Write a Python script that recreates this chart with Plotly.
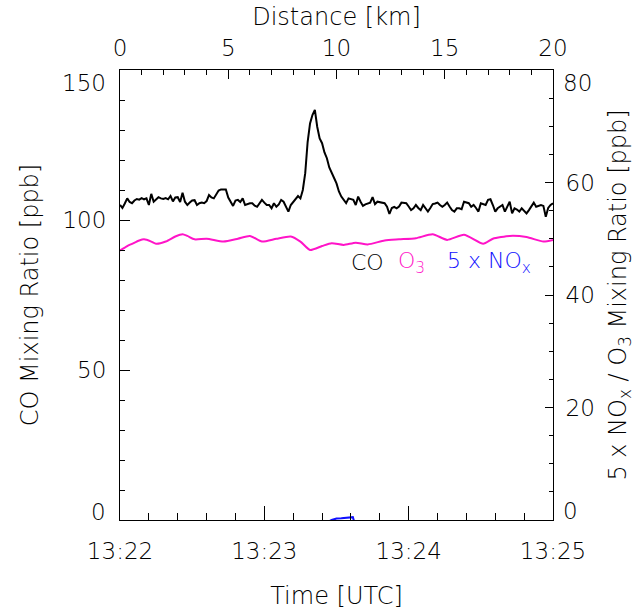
import plotly.graph_objects as go

# ---------------- data ----------------
# CO mixing ratio [ppb], 1-s samples starting 13:22:00
co_ppb = [
    105.0, 104.0, 105.5, 107.2, 106.0, 105.6, 106.5, 107.0, 106.8, 107.3,
    106.9, 107.2, 105.0, 108.7, 106.1, 107.0, 107.6, 107.2, 107.0, 107.3,
    106.9, 108.0, 106.2, 107.5, 107.6, 106.0, 109.1, 106.1, 105.0, 105.8,
    106.5, 106.6, 105.0, 105.6, 105.8, 105.6, 106.3, 108.3, 107.5, 107.2,
    108.5, 109.8, 110.2, 110.3, 110.2, 107.5, 106.2, 104.7, 106.5, 106.7,
    106.0, 107.2, 105.0, 105.3, 105.6, 105.6, 104.8, 104.4, 105.5, 106.7,
    105.8, 105.0, 105.0, 103.9, 105.6, 104.4, 105.2, 106.7, 106.1, 104.5,
    102.8, 105.0, 106.0, 106.7, 108.0, 107.2, 110.0, 115.6, 126.0, 132.2,
    135.0, 136.7, 131.0, 127.2, 125.6, 122.5, 120.6, 117.5, 115.5, 114.0,
    112.2, 109.5, 107.8, 106.5, 105.6, 107.2, 107.0, 106.7, 105.0, 107.8,
    106.1, 104.7, 105.2, 105.6, 105.8, 107.6, 105.3, 106.1, 105.9, 105.8,
    105.6, 104.4, 102.0, 104.0, 104.4, 103.9, 104.5, 105.8, 105.7, 105.6,
    104.5, 103.3, 103.9, 105.0, 104.0, 103.3, 105.0, 104.0, 102.8, 104.0,
    105.3, 105.5, 105.8, 105.0, 104.4, 105.0, 105.8, 104.5, 103.3, 102.8,
    103.9, 103.9, 103.6, 106.1, 105.8, 105.6, 104.4, 105.0, 104.0, 102.8,
    105.6, 105.2, 105.0, 106.7, 106.9, 105.0, 102.8, 103.9, 104.5, 105.0,
    102.8, 104.5, 106.1, 102.2, 103.9, 103.5, 102.8, 103.9, 103.0, 102.2,
    103.3, 104.5, 105.8, 104.4, 104.6, 105.0, 104.7, 101.1, 104.0, 105.0,
    105.6,
]
co_time_s = list(range(len(co_ppb)))  # seconds after 13:22:00

# O3 mixing ratio [ppb]
o3_time_s = [0, 3, 5, 8, 10, 13, 15, 19, 23, 26, 28, 31, 36, 43, 49, 54, 59,
             65, 71, 75, 79, 84, 88, 93, 98, 103, 110, 116, 123, 130, 136,
             143, 151, 155, 162, 169, 176, 180]
o3_ppb = [47.9, 48.7, 49.1, 49.7, 49.9, 49.5, 49.1, 49.5, 50.4, 50.8, 50.5,
          49.9, 50.0, 49.5, 50.0, 50.5, 49.5, 50.0, 50.4, 49.5, 48.0, 48.7,
          49.2, 48.9, 49.3, 49.0, 49.7, 49.9, 50.1, 50.8, 49.8, 50.7, 49.1,
          50.0, 50.5, 50.3, 49.5, 49.8]

# NOx mixing ratio [ppb] (plotted as 5 x NOx)
nox_time_s = [0, 20, 40, 60, 80, 86, 88, 90, 92, 94, 96, 96.8, 97.3, 99,
              120, 140, 160, 180]
nox_ppb = [-0.30, -0.24, -0.28, -0.26, -0.20, -0.08, 0.00, 0.05, 0.06, 0.07,
           0.08, 0.10, -0.04, -0.20, -0.26, -0.28, -0.24, -0.30]
nox_factor = 5

time_tick_s = [0, 60, 120, 180]
time_tick_labels = ["13:22", "13:23", "13:24", "13:25"]
distance_range_km = [0, 20]
co_ticks = [0, 50, 100, 150]
right_ticks = [0, 20, 40, 60, 80]

# ---------------- figure ----------------
FONT = "DejaVu Sans"
FS = 23       # tick labels
FT = 24       # titles
FW = 200
TXT = "#000000"
MAGENTA = "#ff14c8"
BLUE = "#1010ff"

def f(size=FS, color=TXT):
    return dict(family=FONT, size=size, color=color, weight=FW)

fig = go.Figure()
fig.add_trace(go.Scatter(x=co_time_s, y=co_ppb, mode="lines",
                         line=dict(color="black", width=2), xaxis="x", yaxis="y"))
fig.add_trace(go.Scatter(x=o3_time_s, y=o3_ppb, mode="lines",
                         line=dict(color=MAGENTA, width=2, shape="spline", smoothing=0.6),
                         xaxis="x", yaxis="y2"))
fig.add_trace(go.Scatter(x=nox_time_s, y=[v * nox_factor for v in nox_ppb], mode="lines",
                         line=dict(color=BLUE, width=2), xaxis="x", yaxis="y2"))
# invisible trace to anchor the distance axis
fig.add_trace(go.Scatter(x=distance_range_km, y=[None, None], mode="lines",
                         xaxis="x2", yaxis="y", showlegend=False, hoverinfo="skip"))

axis_common = dict(showline=True, linecolor="black", linewidth=1, showgrid=False,
                   zeroline=False, ticks="inside", tickcolor="black", tickwidth=1,
                   automargin=False, tickfont=f())

# end labels of the y axes are drawn inside the axis range (as in the original),
# so the axes themselves only label the interior ticks
co_inner = co_ticks[1:-1]
right_inner = right_ticks[1:-1]

fig.update_layout(
    width=635, height=611,
    margin=dict(l=120, r=82, t=70, b=91, autoexpand=False),
    plot_bgcolor="white", paper_bgcolor="white",
    showlegend=False,
    font=f(),
    xaxis=dict(range=[0, 180], tickvals=time_tick_s, ticktext=time_tick_labels,
               ticklen=14, ticklabelstandoff=10,
               minor=dict(ticks="inside", ticklen=7, dtick=12, tick0=0, tickcolor="black"),
               title=dict(text="Time [UTC]", standoff=24, font=f(FT)),
               **axis_common),
    xaxis2=dict(range=distance_range_km, overlaying="x", side="top", anchor="y",
                tick0=0, dtick=5, ticklen=9, ticklabelstandoff=4,
                minor=dict(ticks="inside", ticklen=5, dtick=1, tick0=0, tickcolor="black"),
                title=dict(text="Distance [km]", standoff=2, font=f(FT)),
                **axis_common),
    yaxis=dict(range=[0, 150], tickvals=co_inner, ticktext=[str(v) for v in co_inner],
               ticklen=10, ticklabelstandoff=8,
               minor=dict(ticks="inside", ticklen=5, dtick=10, tick0=0, tickcolor="black"),
               title=dict(text="CO Mixing Ratio [ppb]", standoff=17, font=f(FT)),
               **axis_common),
    yaxis2=dict(range=[0, 80], overlaying="y", side="right", anchor="x",
                tickvals=right_inner, ticktext=[str(v) for v in right_inner],
                ticklen=8, ticklabelstandoff=7,
                minor=dict(ticks="inside", ticklen=4, dtick=5, tick0=0, tickcolor="black"),
                title=dict(text="5 x NO<sub>x</sub> / O<sub>3</sub> Mixing Ratio [ppb]",
                           standoff=16, font=f(FT)),
                **axis_common),
)

# end tick labels, nudged inside as in the original
for val in (co_ticks[0], co_ticks[-1]):
    fig.add_annotation(x=0, xref="paper", y=val, yref="y", text=str(val), showarrow=False,
                       xanchor="right", yanchor="middle", xshift=-12,
                       yshift=(-13 if val == co_ticks[-1] else 8), font=f())
for val in (right_ticks[0], right_ticks[-1]):
    fig.add_annotation(x=1, xref="paper", y=val, yref="y2", text=str(val), showarrow=False,
                       xanchor="left", yanchor="middle", xshift=8,
                       yshift=(-13 if val == right_ticks[-1] else 9), font=f())

# in-plot legend text
legend_items = [("CO", "black", 95.2), ("O<sub>3</sub>", MAGENTA, 114.8),
                ("5 x NO<sub>x</sub>", BLUE, 135.1)]
for txt, col, xpos in legend_items:
    fig.add_annotation(x=xpos, y=86, xref="x", yref="y", text=txt, showarrow=False,
                       xanchor="left", yanchor="middle", font=f(FS - 1, col))

fig.write_html(
    "out.html",
    config={"displayModeBar": False},
    post_script="document.body.style.margin='0px';document.body.style.overflow='hidden';",
)
